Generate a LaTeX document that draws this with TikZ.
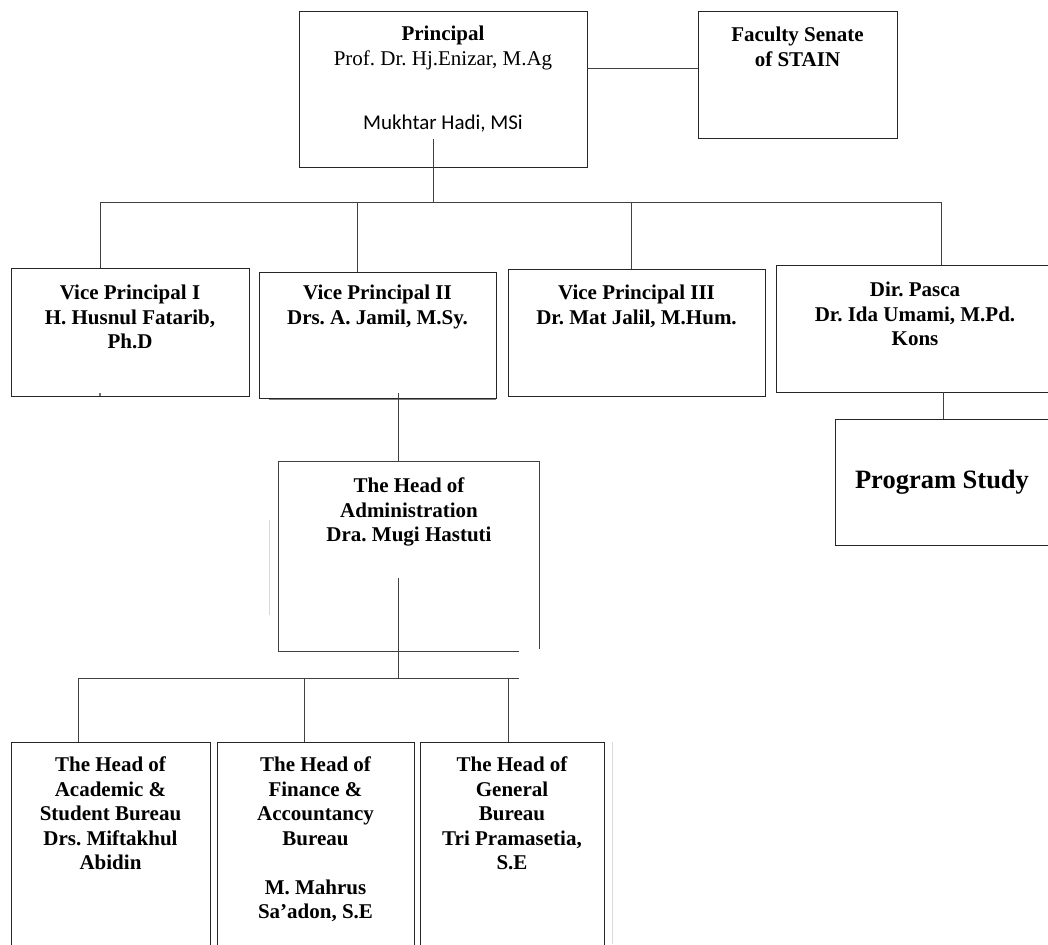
\documentclass[tikz,border=0pt]{standalone}
\usepackage{fontspec}
\setmainfont{Liberation Serif}
\newfontfamily\carlito{Carlito}
\frenchspacing
\begin{document}
\begin{tikzpicture}[x=1pt,y=-1pt,
  box/.style={draw=black!85, line width=0.9pt, inner sep=0pt, minimum width=#1},
  txt/.style={font=\bfseries\fontsize{21}{24.5}\selectfont, align=center, inner sep=0pt, anchor=north},
  conn/.style={draw=black!75, line width=0.9pt},
  faint/.style={draw=black!15, line width=0.8pt}]
\useasboundingbox (0,0) rectangle (1048,944);
\fill[white] (0,0) rectangle (1048,944);
\clip (0,0) rectangle (1048,944);

% boxes
\node[box=288pt, minimum height=156pt] (principal) at (443,89) {};
\node[box=199pt, minimum height=127pt] (senate) at (797.5,74.5) {};
\node[box=238pt, minimum height=128pt] (vp1) at (130,332) {};
\node[box=237pt, minimum height=126pt] (vp2) at (377.5,335) {};
\node[box=257pt, minimum height=127pt] (vp3) at (636.5,332.5) {};
\node[box=278pt, minimum height=127pt] (pasca) at (915,328.5) {};
\node[box=215pt, minimum height=126pt] (prog) at (942.5,482) {};
\node[inner sep=0pt, minimum width=260pt, minimum height=189pt] (admin) at (409,556.5) {};
\node[box=199pt, minimum height=228pt] (b1) at (110.5,856) {};
\node[box=197pt, minimum height=228pt] (b2) at (315.5,856) {};
\node[box=184pt, minimum height=228pt] (b3) at (512,856) {};

% admin outline (bottom edge stops short of the right corner)
\draw[conn] ([xshift=-20pt]admin.south east) -- (admin.south west) -- (admin.north west)
  -- (admin.north east) -- ([yshift=2pt]admin.south east);

% texts
\node[txt] (tprincipal) at (443,26) {Principal\\\mdseries Prof. Dr. Hj.Enizar, M.Ag};
\node[inner sep=0pt, anchor=north, font=\carlito\fontsize{21}{24}\selectfont] (tmukhtar) at (443,115) {Mukhtar Hadi, MSi};
\node[txt] (tsenate) at (797.5,27) {Faculty Senate\\of STAIN};
\node[txt] (tvp1) at (130,285) {Vice Principal I\\H. Husnul Fatarib,\\Ph.D};
\node[txt] (tvp2) at (377.5,285) {Vice Principal II\\Drs. A. Jamil, M.Sy.};
\node[txt] (tvp3) at (636.5,285) {Vice Principal III\\Dr. Mat Jalil, M.Hum.};
\node[txt] (tpasca) at (915,282) {Dir. Pasca\\Dr. Ida Umami, M.Pd.\\Kons};
\node[txt, font=\bfseries\fontsize{26.5}{30}\selectfont] (tprog) at (942,470) {Program Study};
\node[txt] (tadmin) at (409,478) {The Head of\\Administration\\Dra. Mugi Hastuti};
\node[txt] (tb1) at (110.5,757) {The Head of\\Academic \&\\Student Bureau\\Drs. Miftakhul\\Abidin};
\node[txt] (tb2) at (315.5,757) {The Head of\\Finance \&\\Accountancy\\Bureau\\[24.5pt]M. Mahrus\\Sa’adon, S.E};
\node[txt] (tb3) at (512,757) {The Head of\\General\\Bureau\\Tri Pramasetia,\\S.E};

% connectors
\draw[conn] ([yshift=6.5pt]senate.west) -- ([yshift=6.5pt]senate.west -| principal.east);
\coordinate (ptail) at (433,139);
\coordinate (bus1) at (433,202);
\coordinate (d1) at (100,202);
\coordinate (d2) at (357,202);
\coordinate (d3) at (631,202);
\coordinate (d4) at (941,202);
\draw[conn] (ptail) -- (bus1);
\draw[conn] (d1) -- (d4);
\draw[conn] (d1) -- (d1 |- vp1.north);
\draw[conn] (d2) -- (d2 |- vp2.north);
\draw[conn] (d3) -- (d3 |- vp3.north);
\draw[conn] (d4) -- (d4 |- pasca.north);
\coordinate (vp1tick) at (100,393);
\draw[draw=black!55, line width=1.2pt] (vp1tick) -- (vp1tick |- vp1.south);
\draw[draw=black!50, line width=0.9pt] ([xshift=10pt,yshift=-1.2pt]vp2.south west) -- ([yshift=-1.2pt]vp2.south east);
\coordinate (vp2tail) at (398,393);
\draw[conn] (vp2tail) -- (vp2tail |- admin.north);
\draw[conn] ([xshift=28pt]pasca.south) -- ([xshift=28pt]pasca.south |- prog.north);
\coordinate (atail) at (398,578);
\coordinate (bus2) at (398,678);
\coordinate (e1) at (78,678);
\coordinate (e2) at (304,678);
\coordinate (e3) at (508,678);
\coordinate (e4) at (519,678);
\draw[conn] (atail) -- (bus2);
\draw[conn] (e1) -- (e4);
\draw[conn] (e1) -- (e1 |- b1.north);
\draw[conn] (e2) -- (e2 |- b2.north);
\draw[conn] (e3) -- (e3 |- b3.north);
% faint stray lines
\coordinate (f1) at (269,520);
\draw[faint] (f1) -- (269,615);
\coordinate (f2) at (612,742);
\draw[faint] (f2) -- (612,944);
\end{tikzpicture}
\end{document}
